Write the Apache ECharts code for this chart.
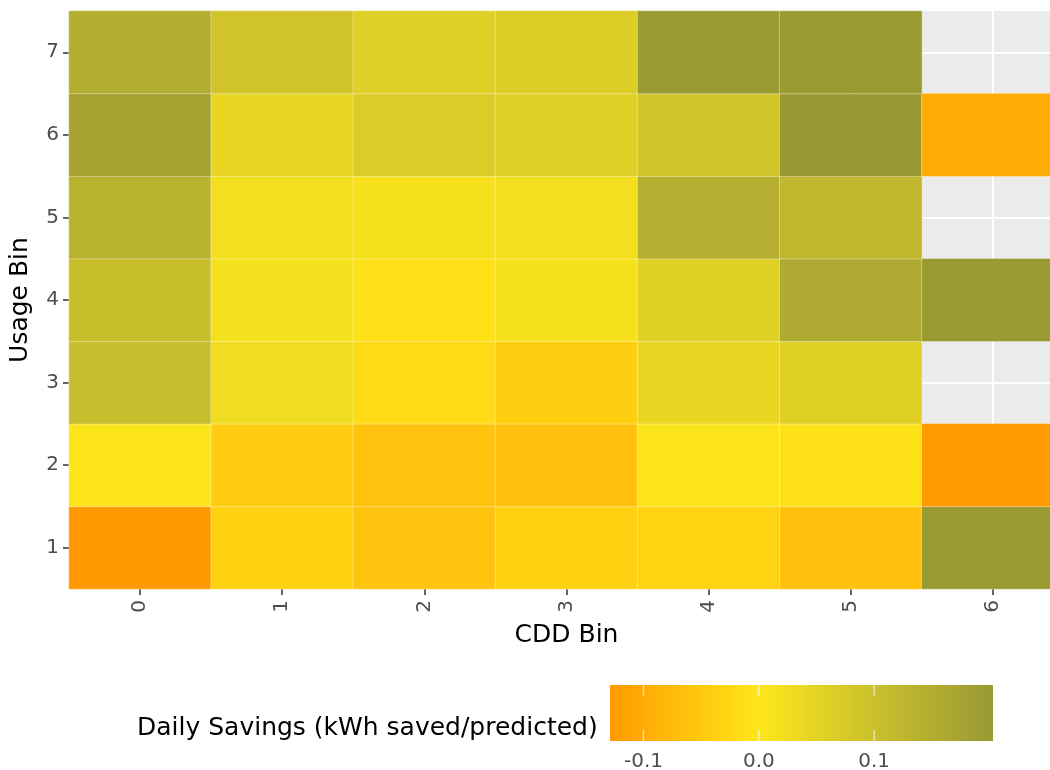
<!DOCTYPE html>
<html>
<head>
<meta charset="utf-8">
<script src="https://cdn.jsdelivr.net/npm/echarts@6/dist/echarts.min.js"></script>
<style>
  html, body { margin: 0; padding: 0; background: #ffffff; overflow: hidden; width: 1050px; height: 770px; }
  /* the panel runs slightly past the right edge of the window */
  #chart { width: 1064px; height: 770px; }
</style>
</head>
<body>
<div id="chart"></div>
<script>
// Bins
const cddBins = ['0', '1', '2', '3', '4', '5', '6'];
const usageBins = ['1', '2', '3', '4', '5', '6', '7'];

// Daily savings (kWh saved / predicted) per usage bin, across CDD bins 0..6 (null = no data)
const savingsUsage1 = [-0.129, -0.037, -0.059, -0.037, -0.033, -0.063, 0.200];
const savingsUsage2 = [0.001, -0.045, -0.060, -0.062, 0.004, -0.008, -0.127];
const savingsUsage3 = [0.106, 0.026, -0.018, -0.042, 0.042, 0.058, null];
const savingsUsage4 = [0.105, 0.016, -0.010, 0.012, 0.058, 0.158, 0.200];
const savingsUsage5 = [0.134, 0.018, 0.012, 0.018, 0.144, 0.122, null];
const savingsUsage6 = [0.178, 0.042, 0.068, 0.060, 0.084, 0.203, -0.099];
const savingsUsage7 = [0.150, 0.086, 0.060, 0.064, 0.198, 0.198, null];

// Colour bar tick labels
const legendTicks = [-0.1, 0.0, 0.1];

// Diverging palette endpoints (low / mid at zero / high)
const lowColor = '#FF9900';
const midColor = '#FDE619';
const highColor = '#999933';

const rows = [savingsUsage1, savingsUsage2, savingsUsage3, savingsUsage4,
              savingsUsage5, savingsUsage6, savingsUsage7];

const cells = [];
rows.forEach(function (row, yi) {
  row.forEach(function (v, xi) {
    if (v !== null) cells.push([xi, yi, v]);
  });
});
const allValues = cells.map(function (c) { return c[2]; });
const vMin = Math.min.apply(null, allValues);
const vMax = Math.max.apply(null, allValues);

// --- Lab colour interpolation (diverging around zero) ---
function hexToRgb(h) {
  return [parseInt(h.slice(1, 3), 16), parseInt(h.slice(3, 5), 16), parseInt(h.slice(5, 7), 16)];
}
function toLin(c) { c /= 255; return c <= 0.04045 ? c / 12.92 : Math.pow((c + 0.055) / 1.055, 2.4); }
function fromLin(c) {
  const v = c <= 0.0031308 ? 12.92 * c : 1.055 * Math.pow(c, 1 / 2.4) - 0.055;
  return Math.max(0, Math.min(255, Math.round(v * 255)));
}
const WX = 0.95047, WY = 1.0, WZ = 1.08883;
function fLab(t) { return t > 0.008856 ? Math.cbrt(t) : 7.787 * t + 16 / 116; }
function fInv(t) { return t > 0.206893 ? t * t * t : (t - 16 / 116) / 7.787; }
function rgbToLab(rgb) {
  const r = toLin(rgb[0]), g = toLin(rgb[1]), b = toLin(rgb[2]);
  const x = (0.4124 * r + 0.3576 * g + 0.1805 * b) / WX;
  const y = (0.2126 * r + 0.7152 * g + 0.0722 * b) / WY;
  const z = (0.0193 * r + 0.1192 * g + 0.9505 * b) / WZ;
  const fx = fLab(x), fy = fLab(y), fz = fLab(z);
  return [116 * fy - 16, 500 * (fx - fy), 200 * (fy - fz)];
}
function labToHex(lab) {
  const fy = (lab[0] + 16) / 116, fx = fy + lab[1] / 500, fz = fy - lab[2] / 200;
  const x = fInv(fx) * WX, y = fInv(fy) * WY, z = fInv(fz) * WZ;
  const r = 3.2406 * x - 1.5372 * y - 0.4986 * z;
  const g = -0.9689 * x + 1.8758 * y + 0.0415 * z;
  const b = 0.0557 * x - 0.2040 * y + 1.0570 * z;
  return '#' + [fromLin(r), fromLin(g), fromLin(b)].map(function (c) {
    return ('0' + c.toString(16)).slice(-2);
  }).join('');
}
const labLow = rgbToLab(hexToRgb(lowColor));
const labMid = rgbToLab(hexToRgb(midColor));
const labHigh = rgbToLab(hexToRgb(highColor));
function mixLab(a, b, t) { return [a[0] + (b[0] - a[0]) * t, a[1] + (b[1] - a[1]) * t, a[2] + (b[2] - a[2]) * t]; }
function colorFor(v) {
  if (v <= 0) return labToHex(mixLab(labMid, labLow, Math.min(1, v / vMin)));
  return labToHex(mixLab(labMid, labHigh, Math.min(1, v / vMax)));
}

const STOPS = 80;
const rampColors = [];
for (let i = 0; i <= STOPS; i++) rampColors.push(colorFor(vMin + (vMax - vMin) * i / STOPS));

// --- Layout of panel and colour bar ---
const panel = { left: 68, top: 11, right: 0, bottom: 181 };
const bar = { x: 610, y: 685, w: 383, h: 56 };
function barX(v) { return bar.x + (v - vMin) / (vMax - vMin) * bar.w; }

const gradientStops = rampColors.map(function (c, i) { return { offset: i / STOPS, color: c }; });

const graphics = [
  {
    type: 'text', x: 137, y: 728,
    style: { text: 'Daily Savings (kWh saved/predicted)', fill: '#000000',
             fontSize: 25, fontFamily: 'DejaVu Sans', align: 'left', verticalAlign: 'middle' }
  },
  {
    type: 'rect', shape: { x: bar.x, y: bar.y, width: bar.w, height: bar.h },
    style: { fill: { type: 'linear', x: 0, y: 0, x2: 1, y2: 0, colorStops: gradientStops } }
  }
];
legendTicks.forEach(function (t) {
  const x = barX(t);
  graphics.push({ type: 'line', shape: { x1: x, y1: bar.y, x2: x, y2: bar.y + 11 },
                  style: { stroke: 'rgba(255,255,255,0.6)', lineWidth: 1.5 } });
  graphics.push({ type: 'line', shape: { x1: x, y1: bar.y + bar.h - 11, x2: x, y2: bar.y + bar.h },
                  style: { stroke: 'rgba(255,255,255,0.6)', lineWidth: 1.5 } });
  graphics.push({ type: 'text', x: x, y: 762,
                  style: { text: t.toFixed(1), fill: '#4D4D4D', fontSize: 20, fontFamily: 'DejaVu Sans',
                           align: 'center', verticalAlign: 'middle' } });
});

const chart = echarts.init(document.getElementById('chart'), null, { renderer: 'canvas' });
chart.setOption({
  animation: false,
  backgroundColor: '#ffffff',
  textStyle: { fontFamily: 'DejaVu Sans' },
  grid: {
    left: panel.left, top: panel.top, right: panel.right, bottom: panel.bottom,
    show: true, backgroundColor: '#EBEBEB', borderWidth: 0, containLabel: false
  },
  xAxis: {
    type: 'category', data: cddBins, position: 'bottom',
    name: 'CDD Bin', nameLocation: 'middle', nameGap: 34, nameMoveOverlap: false,
    nameTextStyle: { fontSize: 25, color: '#000000', fontFamily: 'DejaVu Sans' },
    axisLine: { show: false },
    axisTick: { show: true, alignWithLabel: true, length: 6, lineStyle: { color: '#333333', width: 1.5 } },
    axisLabel: { rotate: 90, margin: 11, fontSize: 20, color: '#4D4D4D', fontFamily: 'DejaVu Sans' },
    splitLine: { show: true, alignWithLabel: true, lineStyle: { color: '#FFFFFF', width: 2 } }
  },
  yAxis: {
    type: 'category', data: usageBins,
    name: 'Usage Bin', nameLocation: 'middle', nameGap: 36, nameMoveOverlap: false,
    nameTextStyle: { fontSize: 25, color: '#000000', fontFamily: 'DejaVu Sans' },
    axisLine: { show: false },
    axisTick: { show: true, alignWithLabel: true, length: 6, lineStyle: { color: '#333333', width: 1.5 } },
    axisLabel: { margin: 10, fontSize: 20, color: '#4D4D4D', fontFamily: 'DejaVu Sans' },
    splitLine: { show: true, alignWithLabel: true, lineStyle: { color: '#FFFFFF', width: 2 } }
  },
  visualMap: {
    show: false, type: 'continuous', dimension: 2, seriesIndex: 0,
    min: vMin, max: vMax, inRange: { color: rampColors }
  },
  series: [{
    type: 'heatmap',
    data: cells,
    itemStyle: { borderColor: 'rgba(255,255,255,0.35)', borderWidth: 1 },
    emphasis: { disabled: true }
  }],
  graphic: graphics
});
</script>
</body>
</html>
